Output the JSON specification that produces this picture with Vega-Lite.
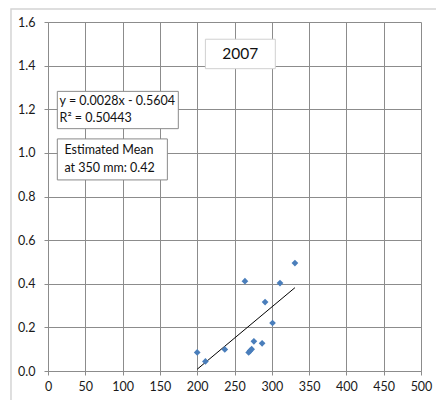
{
  "$schema": "https://vega.github.io/schema/vega-lite/v6.json",
  "autosize": {"type": "none"},
  "padding": {"left": 48, "top": 22, "right": 15, "bottom": 29},
  "width": 373,
  "height": 349,
  "background": "white",
  "config": {
    "view": {"stroke": null},
    "font": "Lato",
    "axis": {
      "grid": true,
      "gridColor": "#8c8c8c",
      "gridWidth": 1,
      "domainColor": "#8c8c8c",
      "tickColor": "#8c8c8c",
      "tickSize": 4,
      "labelFont": "Lato",
      "labelFontSize": 12.5,
      "labelColor": "#1a1a1a",
      "title": null
    }
  },
  "datasets": {
    "points": [
      {"x": 200, "y": 0.085},
      {"x": 211, "y": 0.044},
      {"x": 237, "y": 0.099},
      {"x": 264, "y": 0.412},
      {"x": 269, "y": 0.085},
      {"x": 271, "y": 0.093},
      {"x": 273, "y": 0.100},
      {"x": 276, "y": 0.136},
      {"x": 287, "y": 0.127},
      {"x": 291, "y": 0.316},
      {"x": 301, "y": 0.220},
      {"x": 311, "y": 0.403},
      {"x": 331, "y": 0.495}
    ],
    "trend": [
      {"x": 200, "y": 0.008},
      {"x": 331, "y": 0.382}
    ],
    "boxes": [
      {"x": 211, "x2": 304.7, "y": 1.521, "y2": 1.386, "kind": "title"},
      {"x": 12.5, "x2": 174.7, "y": 1.282, "y2": 1.111, "kind": "eq"},
      {"x": 12.5, "x2": 160, "y": 1.064, "y2": 0.876, "kind": "eq"}
    ],
    "labels": [
      {"x": 15.5, "y": 1.238, "t": "y = 0.0028x - 0.5604"},
      {"x": 15.5, "y": 1.162, "t": "R² = 0.50443"},
      {"x": 22, "y": 1.012, "t": "Estimated Mean"},
      {"x": 22, "y": 0.931, "t": "at 350 mm: 0.42"}
    ],
    "title": [
      {"x": 257.8, "y": 1.453, "t": "2007"}
    ],
    "frame": [
      {"x": -49.6, "x2": 620, "y": 1.66, "y2": -0.4}
    ]
  },
  "encoding": {
    "x": {"field": "x", "type": "quantitative", "scale": {"domain": [0, 500], "nice": false, "zero": false},
          "axis": {"values": [0,50,100,150,200,250,300,350,400,450,500], "labelPadding": 5, "labelFlush": false, "labelOverlap": false}},
    "y": {"field": "y", "type": "quantitative", "scale": {"domain": [0, 1.6], "nice": false, "zero": false},
          "axis": {"values": [0,0.2,0.4,0.6,0.8,1.0,1.2,1.4,1.6], "format": ".1f", "labelPadding": 9, "labelFlush": false, "labelOverlap": false}}
  },
  "layer": [
    {
      "data": {"name": "frame"},
      "mark": {"type": "rect", "fill": null, "stroke": "#d4d4d4", "strokeWidth": 1.5, "clip": false},
      "encoding": {
        "x2": {"field": "x2"},
        "y2": {"field": "y2"}
      }
    },
    {
      "data": {"name": "boxes"},
      "mark": {"type": "rect", "fill": "white"},
      "encoding": {
        "x2": {"field": "x2"},
        "y2": {"field": "y2"},
        "stroke": {"field": "kind", "type": "nominal", "scale": {"domain": ["title", "eq"], "range": ["#d0d0d0", "#8a8a8a"]}, "legend": null}
      }
    },
    {
      "data": {"name": "trend"},
      "mark": {"type": "line", "color": "black", "strokeWidth": 1},
      "encoding": {}
    },
    {
      "data": {"name": "points"},
      "mark": {"type": "point", "shape": "diamond", "filled": true, "color": "#4a7ebb", "size": 45, "opacity": 1},
      "encoding": {}
    },
    {
      "data": {"name": "labels"},
      "mark": {"type": "text", "align": "left", "baseline": "middle", "fontSize": 12.5, "color": "#111111", "font": "Lato"},
      "encoding": {
        "text": {"field": "t"}
      }
    },
    {
      "data": {"name": "title"},
      "mark": {"type": "text", "align": "center", "baseline": "middle", "fontSize": 15.5, "color": "#111111", "font": "Lato"},
      "encoding": {
        "text": {"field": "t"}
      }
    }
  ]
}
